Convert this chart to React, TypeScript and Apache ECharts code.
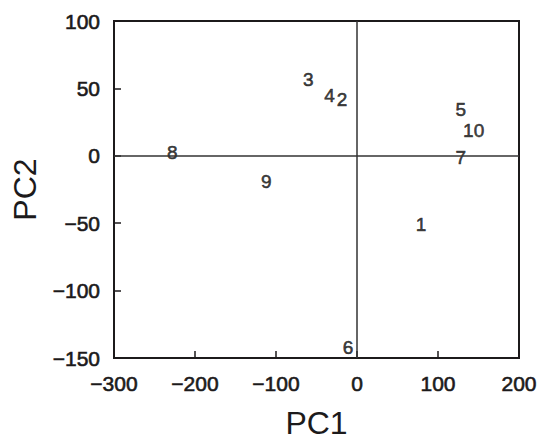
import React, { useEffect, useRef } from "react";
import * as echarts from "echarts";

const labels = ["1", "2", "3", "4", "5", "6", "7", "8", "9", "10"];
const pc1 = [79, -18.5, -60, -34, 128, -11, 128, -228, -112, 144];
const pc2 = [-51, 41.8, 56.6, 45, 34, -142.5, -1.6, 2.8, -18.7, 18.4];
const xTicks = [-300, 200, 100];
const yTicks = [-150, 100, 50];

const FONT = "'Liberation Sans', Arial, sans-serif";
const INK = "#1c1a1b";

export default function App() {
  const ref = useRef<HTMLDivElement>(null);
  useEffect(() => {
    if (!ref.current) return;
    const chart = echarts.init(ref.current, undefined, { renderer: "svg" });
    const fmt = (v: number) => String(v).replace("-", "\u2212");
    const heavy = { textBorderColor: INK, textBorderWidth: 0.6 };
    chart.setOption({
      animation: false,
      backgroundColor: "#ffffff",
      grid: {
        left: 114,
        top: 21,
        width: 405,
        height: 337,
        outerBoundsMode: "none",
        containLabel: false,
        show: true,
        borderColor: INK,
        borderWidth: 2,
        backgroundColor: "transparent",
      },
      xAxis: {
        type: "value",
        min: xTicks[0],
        max: xTicks[1],
        interval: xTicks[2],
        name: "PC1",
        nameLocation: "middle",
        nameGap: 50,
        nameTextStyle: { fontSize: 32, lineHeight: 30, color: INK, fontFamily: FONT },
        axisLine: { show: true, onZero: false, lineStyle: { color: INK, width: 2 } },
        axisTick: { show: true, inside: true, length: 7, lineStyle: { color: INK, width: 1.5 } },
        splitLine: { show: false },
        axisLabel: { fontSize: 21, color: INK, fontFamily: FONT, margin: 15, formatter: fmt, ...heavy },
      },
      yAxis: {
        type: "value",
        min: yTicks[0],
        max: yTicks[1],
        interval: yTicks[2],
        name: "PC2",
        nameLocation: "middle",
        nameRotate: 90,
        nameGap: 74,
        nameTextStyle: { fontSize: 32, lineHeight: 30, color: INK, fontFamily: FONT },
        axisLine: { show: true, onZero: false, lineStyle: { color: INK, width: 2 } },
        axisTick: { show: true, inside: true, length: 7, lineStyle: { color: INK, width: 1.5 } },
        splitLine: { show: false },
        axisLabel: { fontSize: 21, color: INK, fontFamily: FONT, margin: 14, formatter: fmt, ...heavy },
      },
      series: [
        {
          type: "scatter",
          symbolSize: 1,
          itemStyle: { color: "rgba(0,0,0,0)" },
          data: labels.map((n, i) => ({ name: n, value: [pc1[i], pc2[i]] })),
          label: {
            show: true,
            position: "inside",
            formatter: "{b}",
            fontSize: 19,
            color: "#111",
            fontFamily: FONT,
            textBorderColor: "#111",
            textBorderWidth: 0.6,
          },
          markLine: {
            silent: true,
            symbol: "none",
            label: { show: false },
            lineStyle: { color: "#333", width: 1.5, type: "solid" },
            data: [{ xAxis: 0 }, { yAxis: 0 }],
          },
        },
      ],
    });
    return () => chart.dispose();
  }, []);
  return (
    <div
      ref={ref}
      style={{ position: "fixed", left: 0, top: 0, width: 542, height: 440, background: "#fff" }}
    />
  );
}
